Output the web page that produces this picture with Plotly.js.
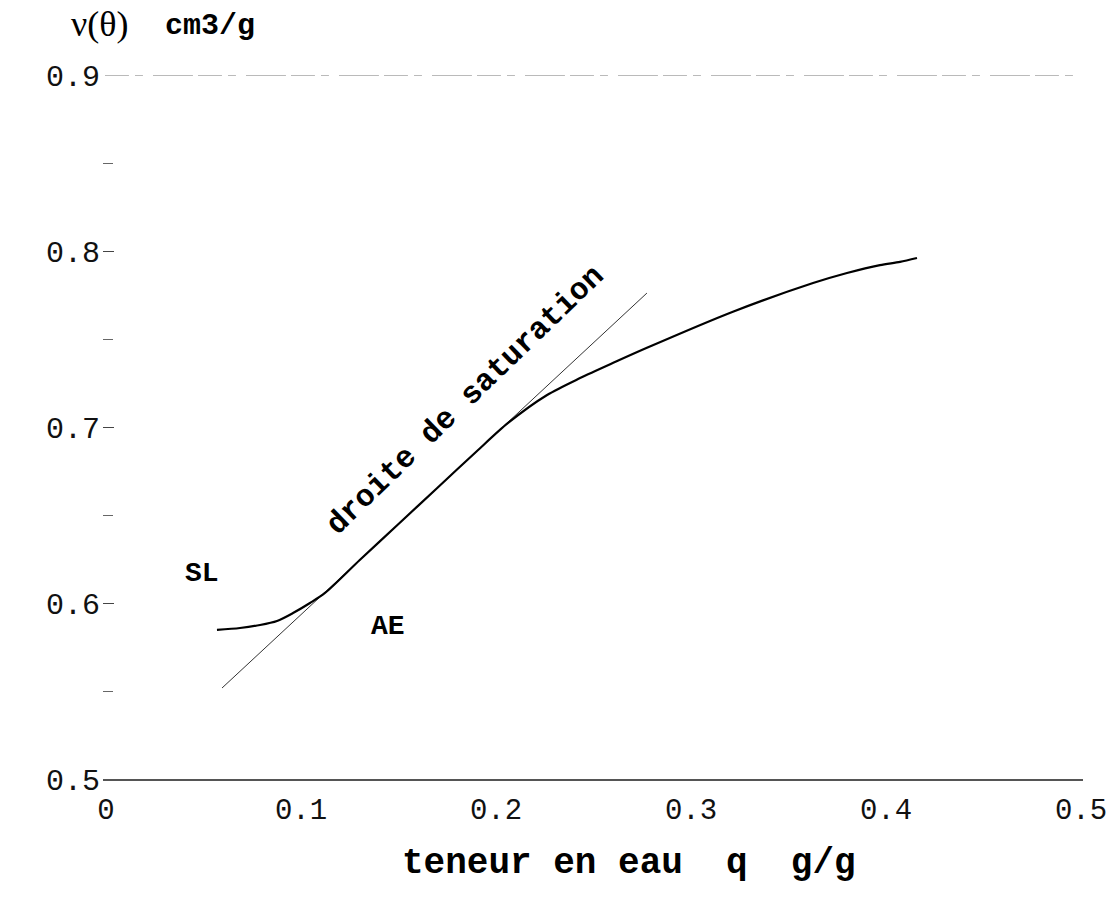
<!DOCTYPE html>
<html>
<head>
<meta charset="utf-8">
<script src="https://cdn.plot.ly/plotly-3.0.1.min.js"></script>
<style>
  html, body { margin: 0; padding: 0; background: #fff; }
  #chart { width: 1120px; height: 905px; }
  text { white-space: pre; }
</style>
</head>
<body>
<div id="chart"></div>
<script>
// Measured curve: specific volume v(θ) vs water content
const waterContent = [0.0569, 0.0687, 0.0790, 0.0877, 0.0959, 0.1046, 0.1123, 0.13, 0.15, 0.17, 0.19, 0.2062, 0.2262, 0.2431, 0.2610, 0.2774, 0.3215, 0.3626, 0.3800, 0.3969, 0.4072, 0.4159];
const specificVolume = [0.5847, 0.5858, 0.5875, 0.5898, 0.5943, 0.6000, 0.6057, 0.6243, 0.6449, 0.6655, 0.6861, 0.7023, 0.7182, 0.7278, 0.7369, 0.7450, 0.7655, 0.7818, 0.7875, 0.7920, 0.7938, 0.7960];

// Saturation line (droite de saturation)
const saturationX = [0.0595, 0.2774];
const saturationY = [0.5517, 0.7761];

// Axis ticks
const xTickVals = [0, 0.1, 0.2, 0.3, 0.4, 0.5];
const xTickText = ["0", "0.1", "0.2", "0.3", "0.4", "0.5"];
const yTickVals = [0.5, 0.6, 0.7, 0.8, 0.9];
const yTickText = ["0.5", "0.6", "0.7", "0.8", "0.9"];
const yMinorTickVals = [0.55, 0.65, 0.75, 0.85];

// Text labels
const xTitle = "teneur en eau  q  g/g";
const yTitleSymbol = "ν(θ)";
const yTitleUnit = "cm3/g";
const lineLabel = "droite de saturation";
const labelSL = "SL";
const labelAE = "AE";

const mono = "Liberation Mono, Courier New, monospace";

const traces = [
  {
    x: saturationX, y: saturationY, mode: "lines", type: "scatter",
    line: { color: "#333", width: 1 }, hoverinfo: "skip", showlegend: false
  },
  {
    x: waterContent, y: specificVolume, mode: "lines", type: "scatter",
    line: { color: "#000", width: 2.2, shape: "spline", smoothing: 0.8 },
    hoverinfo: "skip", showlegend: false
  }
];

const layout = {
  width: 1120, height: 905,
  margin: { l: 103, r: 37, t: 75, b: 126 },
  paper_bgcolor: "#fff", plot_bgcolor: "#fff",
  showlegend: false,
  xaxis: {
    range: [-0.00154, 0.50103],
    tickvals: xTickVals, ticktext: xTickText,
    ticks: "", showgrid: false, zeroline: false,
    showline: true, linecolor: "#555", linewidth: 1.5,
    tickfont: { family: mono, size: 29, color: "#111" },
    ticklabelstandoff: 4
  },
  yaxis: {
    range: [0.5, 0.9],
    tickvals: yTickVals, ticktext: yTickText,
    ticks: "inside", ticklen: 11, tickcolor: "#444", tickwidth: 1,
    minor: { tickvals: yMinorTickVals, ticks: "inside", ticklen: 10, tickcolor: "#666", tickwidth: 1 },
    showgrid: false, zeroline: false, showline: false,
    tickfont: { family: mono, size: 30, color: "#111" },
    ticklabelstandoff: 2
  },
  shapes: [
    { type: "line", xref: "paper", yref: "y", x0: 0.002, x1: 1, y0: 0.9, y1: 0.9,
      line: { color: "#777", width: 1.2, dash: "24px,6px,8px,10px,40px,5px" } }
  ],
  annotations: [
    { xref: "x", yref: "paper", x: 0.268, y: -0.12, text: xTitle, showarrow: false,
      font: { family: mono, size: 36, color: "#000", weight: "bold" }, xanchor: "center", yanchor: "middle" },
    { xref: "paper", yref: "paper", x: -0.035, y: 1.072, text: yTitleSymbol, showarrow: false,
      font: { family: "Liberation Serif, Times New Roman, serif", size: 36, color: "#000" }, xanchor: "left", yanchor: "middle" },
    { xref: "paper", yref: "paper", x: 0.061, y: 1.07, text: yTitleUnit, showarrow: false,
      font: { family: mono, size: 30, color: "#000", weight: "bold" }, xanchor: "left", yanchor: "middle" },
    { xref: "x", yref: "y", x: 0.1841, y: 0.7153, text: lineLabel, showarrow: false, textangle: -44,
      font: { family: mono, size: 31, color: "#000", weight: "bold" }, xanchor: "center", yanchor: "middle" },
    { xref: "x", yref: "y", x: 0.049, y: 0.6165, text: labelSL, showarrow: false,
      font: { family: mono, size: 28, color: "#000", weight: "bold" }, xanchor: "center", yanchor: "middle" },
    { xref: "x", yref: "y", x: 0.1446, y: 0.5864, text: labelAE, showarrow: false,
      font: { family: mono, size: 28, color: "#000", weight: "bold" }, xanchor: "center", yanchor: "middle" }
  ]
};

Plotly.newPlot("chart", traces, layout, { staticPlot: true, displayModeBar: false });
</script>
</body>
</html>
